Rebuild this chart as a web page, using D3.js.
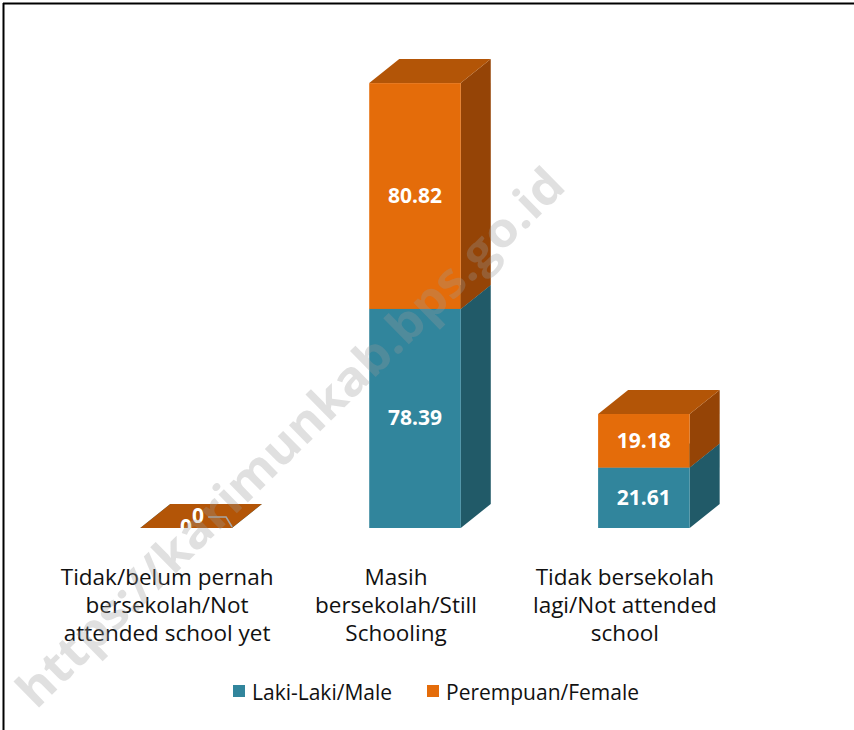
<!DOCTYPE html>
<html lang="en">
<head>
  <meta charset="UTF-8">
  <title>Status Sekolah</title>
  <script src="https://d3js.org/d3.v7.min.js"></script>
  <style>
    body {
      margin: 0;
      background: #ffffff;
    }
    svg {
      display: block;
      font-family: "Open Sans", sans-serif;
    }
  </style>
</head>
<body>
<div id="chart"></div>

<script>
// data
const categories = ["none", "still", "dropped"];
const categoryLabels = [
  ["Tidak/belum pernah", "bersekolah/Not", "attended school yet"],
  ["Masih", "bersekolah/Still", "Schooling"],
  ["Tidak bersekolah", "lagi/Not attended", "school"]
];
const male = [0, 78.39, 21.61];
const female = [0, 80.82, 19.18];
const seriesNames = ["Laki-Laki/Male", "Perempuan/Female"];

const W = 854, H = 730;
const depthX = 30, depthY = 24;

const colors = {
  male:   { front: "#31859c", side: "#215a68", top: "#2a7287" },
  female: { front: "#e46c0a", side: "#954406", top: "#b35507" }
};

const svg = d3.select("#chart")
  .append("svg")
  .attr("width", W)
  .attr("height", H);

// frame (top + left edges only are visible)
svg.append("line")
  .attr("x1", 3).attr("y1", 3.5).attr("x2", W).attr("y2", 3.5)
  .attr("stroke", "#000").attr("stroke-width", 2);
svg.append("line")
  .attr("x1", 3.5).attr("y1", 3).attr("x2", 3.5).attr("y2", H)
  .attr("stroke", "#000").attr("stroke-width", 2);

const x = d3.scaleBand()
  .domain(categories)
  .range([3, 827])
  .padding(0.6);

const y = d3.scaleLinear()
  .domain([0, 180])
  .range([528, 25]);

const bw = x.bandwidth();

function drawBox(g, x0, yTop, yBot, c, showTop) {
  // side face
  g.append("path")
    .attr("d", `M${x0 + bw},${yBot} L${x0 + bw + depthX},${yBot - depthY} L${x0 + bw + depthX},${yTop - depthY} L${x0 + bw},${yTop} Z`)
    .attr("fill", c.side);
  // front face
  g.append("rect")
    .attr("x", x0).attr("y", yTop)
    .attr("width", bw).attr("height", Math.max(0, yBot - yTop))
    .attr("fill", c.front);
  if (showTop) {
    g.append("path")
      .attr("d", `M${x0},${yTop} L${x0 + depthX},${yTop - depthY} L${x0 + bw + depthX},${yTop - depthY} L${x0 + bw},${yTop} Z`)
      .attr("fill", c.top);
  }
}

const bars = svg.append("g");
const valueSize = 21;

categories.forEach((cat, i) => {
  const g = bars.append("g");
  const x0 = x(cat);
  const m = male[i], f = female[i];
  drawBox(g, x0, y(m), y(0), colors.male, true);
  drawBox(g, x0, y(m + f), y(m), colors.female, true);

  const cx = x0 + bw / 2;
  if (m + f > 0) {
    g.append("text")
      .attr("x", cx).attr("y", (y(0) + y(m)) / 2 + 7)
      .attr("text-anchor", "middle")
      .attr("fill", "#fff").attr("font-weight", "bold").attr("font-size", valueSize)
      .text(m.toFixed(2));
    g.append("text")
      .attr("x", cx).attr("y", (y(m) + y(m + f)) / 2 + 7)
      .attr("text-anchor", "middle")
      .attr("fill", "#fff").attr("font-weight", "bold").attr("font-size", valueSize)
      .text(f.toFixed(2));
  } else {
    // zero values: labels crowd on the flat top face
    g.append("path")
      .attr("d", `M${cx + 22},${y(0) - 11} L${cx + 40},${y(0) - 11} L${cx + 46},${y(0) - 1}`)
      .attr("fill", "none").attr("stroke", "#a6a6a6").attr("stroke-width", 1.5);
    g.append("text")
      .attr("x", cx).attr("y", y(0) + 6)
      .attr("text-anchor", "middle")
      .attr("fill", "#fff").attr("font-weight", "bold").attr("font-size", valueSize)
      .text(m);
    g.append("text")
      .attr("x", cx + 12).attr("y", y(0) - 5)
      .attr("text-anchor", "middle")
      .attr("fill", "#fff").attr("font-weight", "bold").attr("font-size", valueSize)
      .text(f);
  }
});

// category labels
const labels = svg.append("g")
  .attr("font-size", 22.5)
  .attr("fill", "#111");

categories.forEach((cat, i) => {
  const lx = x(cat) + bw / 2 - 19;
  const t = labels.append("text")
    .attr("text-anchor", "middle")
    .attr("x", lx)
    .attr("y", 585);
  categoryLabels[i].forEach((line, j) => {
    t.append("tspan")
      .attr("x", lx)
      .attr("dy", j === 0 ? 0 : 28)
      .text(line);
  });
});

// legend
const legend = svg.append("g").attr("font-size", 21).attr("fill", "#111");
const legendX = [233, 427];
[colors.male.front, colors.female.front].forEach((c, i) => {
  legend.append("rect")
    .attr("x", legendX[i]).attr("y", 685)
    .attr("width", 12).attr("height", 12)
    .attr("fill", c);
  legend.append("text")
    .attr("x", legendX[i] + 19).attr("y", 700)
    .text(seriesNames[i]);
});

// watermark
svg.append("text")
  .attr("transform", "translate(293,440) rotate(-44.5)")
  .attr("text-anchor", "middle")
  .attr("dominant-baseline", "middle")
  .attr("font-size", 48)
  .attr("font-weight", "bold")
  .attr("font-family", "'Open Sans', sans-serif")
  .attr("fill", "#9a9a9a")
  .attr("opacity", 0.3)
  .attr("textLength", 745)
  .attr("lengthAdjust", "spacingAndGlyphs")
  .text("https://karimunkab.bps.go.id");
</script>
</body>
</html>
